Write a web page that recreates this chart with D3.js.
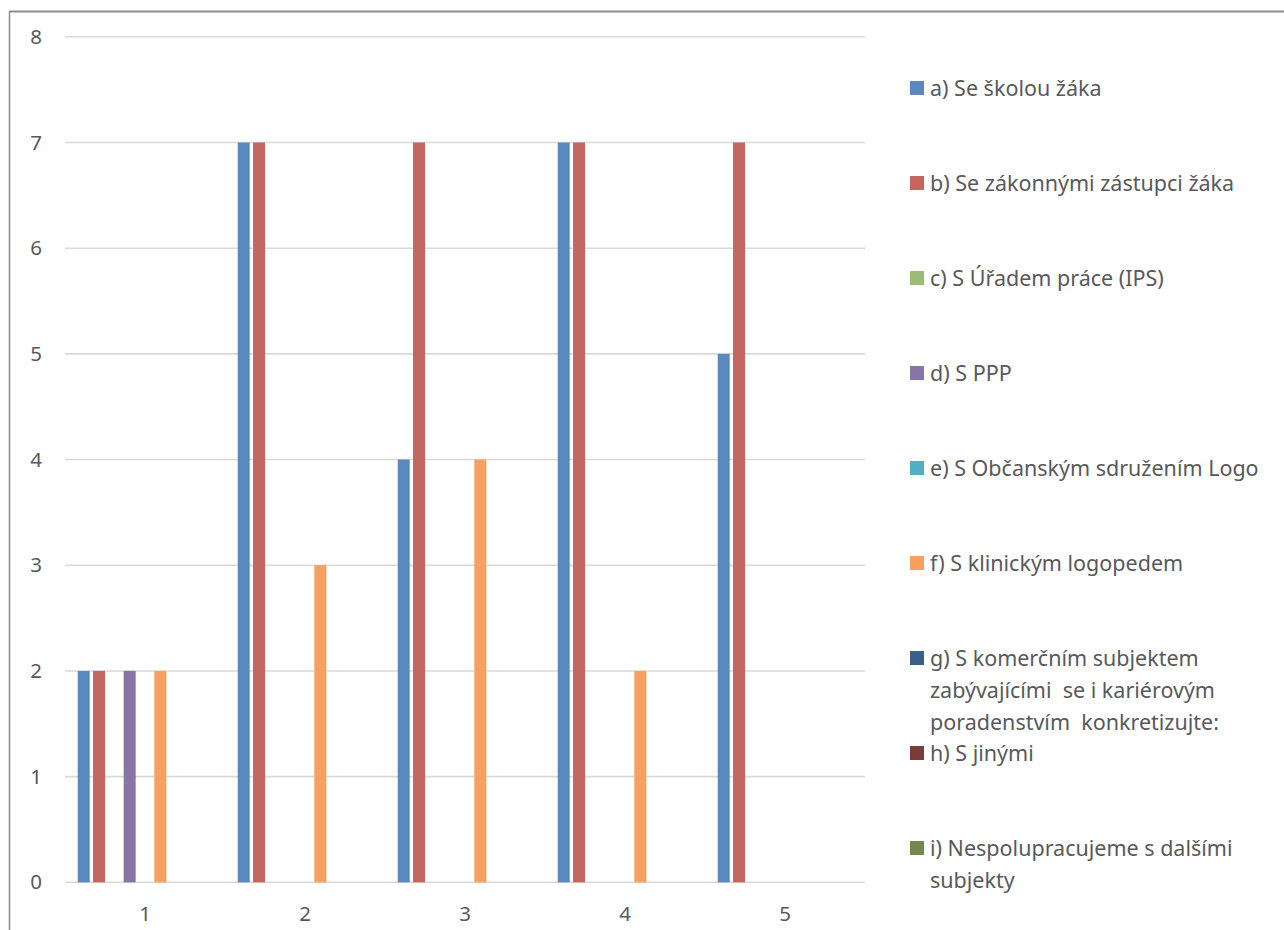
<!DOCTYPE html>
<html>
<head>
<meta charset="utf-8">
<script src="https://cdn.jsdelivr.net/npm/d3@7"></script>
<style>
  html, body { margin: 0; padding: 0; background: #ffffff; }
  svg { display: block; }
</style>
</head>
<body>
<svg id="chart" width="1284" height="930"></svg>
<script>
const categories = ["1", "2", "3", "4", "5"];
const seriesNames = [
  "a) Se školou žáka",
  "b) Se zákonnými zástupci žáka",
  "c) S Úřadem práce (IPS)",
  "d) S PPP",
  "e) S Občanským sdružením Logo",
  "f) S klinickým logopedem",
  "g) S komerčním subjektem zabývajícími  se i kariérovým poradenstvím  konkretizujte:",
  "h) S jinými",
  "i) Nespolupracujeme s dalšími subjekty"
];
const legendLines = [
  ["a) Se školou žáka"],
  ["b) Se zákonnými zástupci žáka"],
  ["c) S Úřadem práce (IPS)"],
  ["d) S PPP"],
  ["e) S Občanským sdružením Logo"],
  ["f) S klinickým logopedem"],
  ["g) S komerčním subjektem", "zabývajícími  se i kariérovým", "poradenstvím  konkretizujte:"],
  ["h) S jinými"],
  ["i) Nespolupracujeme s dalšími", "subjekty"]
];
const seriesColors = ["#5A8ABD", "#C4665F", "#9BBB77", "#8974A8", "#4FAFC4", "#F6A061", "#3A5F8B", "#7B3B38", "#768750"];
// values[series][category]
const valuesA = [2, 7, 4, 7, 5];
const valuesB = [2, 7, 7, 7, 7];
const valuesC = [0, 0, 0, 0, 0];
const valuesD = [2, 0, 0, 0, 0];
const valuesE = [0, 0, 0, 0, 0];
const valuesF = [2, 3, 4, 2, 0];
const valuesG = [0, 0, 0, 0, 0];
const valuesH = [0, 0, 0, 0, 0];
const valuesI = [0, 0, 0, 0, 0];
const seriesValues = [valuesA, valuesB, valuesC, valuesD, valuesE, valuesF, valuesG, valuesH, valuesI];
const yTicks = [0, 1, 2, 3, 4, 5, 6, 7, 8];

const svg = d3.select("#chart");
const FONT = "'Noto Sans', 'Open Sans', sans-serif";
const TEXT_COLOR = "#595959";

// outer frame (top and left border)
svg.append("line").attr("x1", 9.5).attr("x2", 1284).attr("y1", 11.5).attr("y2", 11.5)
  .attr("stroke", "#8C8C8C").attr("stroke-width", 2);
svg.append("line").attr("x1", 9.5).attr("x2", 9.5).attr("y1", 11).attr("y2", 930)
  .attr("stroke", "#8C8C8C").attr("stroke-width", 1.5);

const plot = { left: 65, right: 865, top: 36.8, bottom: 882.3 };

const x0 = d3.scaleBand().domain(categories).range([plot.left, plot.right]).paddingInner(0).paddingOuter(0);
const keys = seriesNames.map((d, i) => i);
const x1 = d3.scaleBand().domain(keys).range([0, x0.bandwidth()]).paddingInner(0.217).paddingOuter(0.83);
const y = d3.scaleLinear().domain([0, 8]).range([plot.bottom, plot.top]);

// gridlines
svg.append("g").selectAll("line").data(yTicks).join("line")
  .attr("x1", plot.left).attr("x2", plot.right)
  .attr("y1", d => y(d)).attr("y2", d => y(d))
  .attr("stroke", "#D9D9D9").attr("stroke-width", 1.6);

// y axis labels
const yAxis = d3.axisLeft(y).tickValues(yTicks).tickSize(0).tickPadding(0).tickFormat(d3.format("d"));
const yg = svg.append("g").attr("transform", `translate(${plot.left - 23},0)`).call(yAxis);
yg.select(".domain").remove();
yg.selectAll("text").attr("font-family", FONT).attr("font-size", 20.5).attr("fill", TEXT_COLOR);

// bars
const groups = svg.append("g").selectAll("g").data(categories).join("g")
  .attr("transform", d => `translate(${x0(d)},0)`);
groups.selectAll("rect")
  .data((c, ci) => keys.map(k => ({ k, v: seriesValues[k][ci] })).filter(d => d.v > 0))
  .join("rect")
  .attr("x", d => x1(d.k))
  .attr("width", x1.bandwidth())
  .attr("y", d => y(d.v))
  .attr("height", d => y(0) - y(d.v))
  .attr("fill", d => seriesColors[d.k]);

// x axis labels
const xAxis = d3.axisBottom(x0).tickSize(0).tickPadding(0);
const xg = svg.append("g").attr("transform", `translate(0,${plot.bottom + 24})`).call(xAxis);
xg.select(".domain").remove();
xg.selectAll("text").attr("font-family", FONT).attr("font-size", 20.5).attr("fill", TEXT_COLOR);

// legend
const legendY = d3.scalePoint().domain(keys).range([88, 848]);
const lg = svg.append("g").selectAll("g").data(keys).join("g")
  .attr("transform", k => `translate(910,${legendY(k)})`);
lg.append("rect").attr("x", 0).attr("y", -7).attr("width", 14).attr("height", 14)
  .attr("fill", k => seriesColors[k]);
lg.append("text")
  .attr("font-family", FONT).attr("font-size", 21.5).attr("fill", TEXT_COLOR)
  .style("white-space", "pre")
  .selectAll("tspan").data(k => legendLines[k]).join("tspan")
  .attr("x", 20).attr("y", (d, i) => i * 32).attr("dy", "0.35em")
  .text(d => d);
</script>
</body>
</html>
